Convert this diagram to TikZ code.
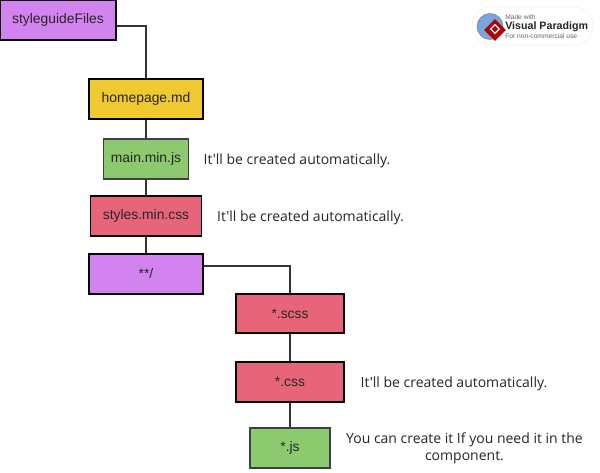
\documentclass[tikz,border=0pt]{standalone}
\usepackage{fontspec}
\usetikzlibrary{shapes.geometric}
\setmainfont{Liberation Sans}
\newfontfamily\notefont{Open Sans}
\def\px{0.75pt}
\definecolor{boxpurple}{HTML}{D383F0}
\definecolor{boxyellow}{HTML}{F0C82F}
\definecolor{boxgreen}{HTML}{8DC96F}
\definecolor{boxred}{HTML}{E86579}
\definecolor{linegray}{HTML}{333333}
\tikzset{
  file/.style={draw=black, line width=1.1*\px, inner sep=0pt, font=\fontsize{10.4}{12}\selectfont, text=black!85},
  purplefile/.style={file, fill=boxpurple},
  yellowfile/.style={file, fill=boxyellow},
  greenfile/.style={file, fill=boxgreen, draw=black!75},
  redfile/.style={file, fill=boxred},
  note/.style={font=\notefont\fontsize{10.5}{12.75}\selectfont, text=black!85, align=center},
  link/.style={draw=linegray, line width=1.1*\px},
  logotext/.style={font=\fontsize{5}{5.5}\selectfont, text=black!60, anchor=west, inner sep=0pt},
}
\begin{document}
\begin{tikzpicture}[x=0.75pt, y=-0.75pt]
    \useasboundingbox (0,0) rectangle (600,473);

    % ファイルの箱
    \node[purplefile, minimum width=116*\px, minimum height=40*\px] (styleguide) at (58,20) {styleguideFiles};
    \node[yellowfile, minimum width=114*\px, minimum height=40*\px] (homepage) at (146,99) {homepage.md};
    \node[greenfile, minimum width=85*\px, minimum height=40*\px] (mainjs) at (146,159) {main.min.js};
    \node[redfile, minimum width=111*\px, minimum height=40*\px] (stylescss) at (146,216) {styles.min.css};
    \node[purplefile, minimum width=114*\px, minimum height=40*\px] (glob) at (146,274) {**/};
    \node[redfile, minimum width=108*\px, minimum height=39*\px] (scss) at (290,313.5) {*.scss};
    \node[redfile, minimum width=108*\px, minimum height=40*\px] (css) at (290,382) {*.css};
    \node[greenfile, minimum width=80*\px, minimum height=40*\px] (js) at (290,448) {*.js};

    % 説明
    \node[note] (note1) at (297,160.5) {It'll be created automatically.};
    \node[note] (note2) at (310.5,217.5) {It'll be created automatically.};
    \node[note] (note3) at (454,383.5) {It'll be created automatically.};
    \node[note] (note4) at (464.5,448) {You can create it If you need it in the\\component.};

    % 接続線
    \draw[link] ([yshift=-6*\px]styleguide.east) -| (homepage.north);
    \draw[link] (homepage) -- (mainjs);
    \draw[link] (mainjs) -- (stylescss);
    \draw[link] (stylescss) -- (glob);
    \draw[link] ([yshift=8*\px]glob.east) -| (scss.north);
    \draw[link] (scss) -- (css);
    \draw[link] (css) -- (js);

    % ロゴ
    \draw[black!6, fill=white, rounded corners=14pt] (472,7) rectangle (593,45);
    \node[circle, draw=black!50, fill=cyan!55!blue!55, minimum size=26*\px, inner sep=0pt] (globe) at (490,26.5) {};
    \node[diamond, fill=red!70!black, minimum size=22*\px, inner sep=0pt] (mark) at (495,30) {};
    \node[diamond, draw=white, line width=1.2*\px, minimum size=9*\px, inner sep=0pt] (markinner) at (495,29) {};
    \node[logotext] (made) at (505,17) {Made with};
    \node[logotext, font=\bfseries\fontsize{8}{9}\selectfont, text=black!85] (vp) at (505,26.5) {Visual Paradigm};
    \node[logotext] (use) at (505,36) {For non-commercial use};
\end{tikzpicture}
\end{document}
